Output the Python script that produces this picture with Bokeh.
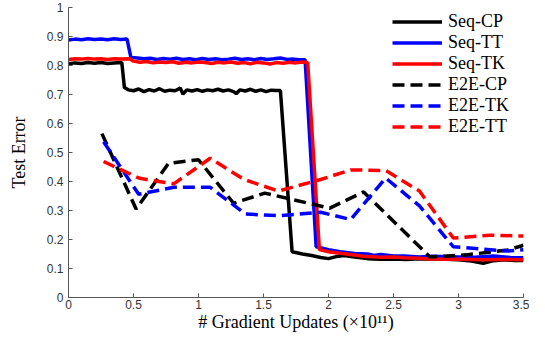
from bokeh.plotting import figure
from bokeh.models import Range1d, FixedTicker, Legend, LegendItem
from bokeh.embed import file_html
from bokeh.resources import INLINE

# ---- data ----
seq_cp_x = [0, 0.05, 0.1, 0.15, 0.2, 0.25, 0.3, 0.35, 0.41, 0.43, 0.46, 0.5, 0.54, 0.58, 0.62, 0.66, 0.7,
            0.74, 0.78, 0.82, 0.86, 0.88, 0.91, 0.95, 0.99, 1.03, 1.07, 1.11, 1.15, 1.19, 1.23, 1.27, 1.29,
            1.32, 1.36, 1.4, 1.44, 1.48, 1.52, 1.56, 1.6, 1.63, 1.72, 1.8, 1.87, 1.94, 2.0, 2.06, 2.12, 2.2,
            2.3, 2.4, 2.5, 2.6, 2.7, 2.8, 2.9, 3.0, 3.1, 3.19, 3.27, 3.35, 3.43, 3.5]
seq_cp_y = [0.806, 0.809, 0.807, 0.81, 0.808, 0.81, 0.807, 0.809, 0.81, 0.724, 0.716, 0.713, 0.719, 0.71,
            0.717, 0.712, 0.72, 0.711, 0.715, 0.713, 0.722, 0.702, 0.716, 0.712, 0.717, 0.711, 0.716, 0.713,
            0.718, 0.712, 0.716, 0.71, 0.703, 0.716, 0.712, 0.718, 0.711, 0.716, 0.71, 0.715, 0.714, 0.714,
            0.158, 0.15, 0.145, 0.138, 0.134, 0.141, 0.145, 0.14, 0.134, 0.132, 0.133, 0.131, 0.134, 0.133,
            0.132, 0.13, 0.126, 0.118, 0.127, 0.13, 0.128, 0.128]

seq_tt_x = [0, 0.05, 0.1, 0.15, 0.2, 0.25, 0.3, 0.35, 0.4, 0.45, 0.48, 0.53, 0.58, 0.63, 0.68, 0.73, 0.78,
            0.83, 0.88, 0.93, 0.98, 1.03, 1.08, 1.13, 1.18, 1.23, 1.28, 1.33, 1.38, 1.43, 1.48, 1.53, 1.58,
            1.63, 1.68, 1.73, 1.78, 1.82, 1.905, 2.0, 2.09, 2.2, 2.3, 2.35, 2.4, 2.5, 2.58, 2.7, 2.8, 3.0,
            3.1, 3.27, 3.4, 3.5]
seq_tt_y = [0.888, 0.891, 0.889, 0.892, 0.89, 0.891, 0.889, 0.892, 0.89, 0.891, 0.828, 0.826, 0.823, 0.825,
            0.821, 0.824, 0.822, 0.825, 0.821, 0.823, 0.82, 0.824, 0.821, 0.823, 0.82, 0.822, 0.825, 0.821,
            0.823, 0.82, 0.824, 0.821, 0.823, 0.826, 0.821, 0.822, 0.82, 0.82, 0.175, 0.165, 0.158, 0.152,
            0.15, 0.145, 0.148, 0.143, 0.143, 0.14, 0.142, 0.14, 0.138, 0.143, 0.138, 0.137]

seq_tk_x = [0, 0.05, 0.1, 0.15, 0.2, 0.25, 0.3, 0.35, 0.4, 0.47, 0.5, 0.55, 0.6, 0.65, 0.7, 0.75, 0.8, 0.85,
            0.9, 0.95, 1.0, 1.05, 1.1, 1.15, 1.2, 1.25, 1.3, 1.35, 1.4, 1.45, 1.5, 1.55, 1.6, 1.65, 1.7,
            1.75, 1.8, 1.84, 1.93, 2.01, 2.12, 2.27, 2.4, 2.5, 2.58, 2.7, 2.78, 2.9, 3.0, 3.2, 3.35, 3.5]
seq_tk_y = [0.821, 0.823, 0.822, 0.824, 0.822, 0.823, 0.821, 0.823, 0.822, 0.823, 0.815, 0.811, 0.814,
            0.809, 0.812, 0.81, 0.813, 0.808, 0.811, 0.809, 0.812, 0.81, 0.807, 0.811, 0.809, 0.812, 0.808,
            0.81, 0.806, 0.811, 0.809, 0.805, 0.81, 0.808, 0.811, 0.809, 0.812, 0.81, 0.165, 0.157, 0.151,
            0.142, 0.139, 0.14, 0.137, 0.135, 0.133, 0.132, 0.132, 0.13, 0.131, 0.13]

e2e_cp_x = [0.257, 0.52, 0.77, 1.0, 1.27, 1.51, 2.01, 2.27, 2.78, 3.06, 3.38, 3.5]
e2e_cp_y = [0.565, 0.305, 0.463, 0.475, 0.325, 0.36, 0.308, 0.364, 0.14, 0.147, 0.164, 0.18]

e2e_tk_x = [0.27, 0.54, 0.81, 1.09, 1.36, 1.615, 1.94, 2.17, 2.44, 2.7, 2.96, 3.38, 3.5]
e2e_tk_y = [0.537, 0.356, 0.38, 0.38, 0.288, 0.282, 0.294, 0.269, 0.412, 0.316, 0.175, 0.16, 0.165]

e2e_tt_x = [0.27, 0.54, 0.62, 0.81, 1.09, 1.35, 1.615, 1.94, 2.17, 2.44, 2.7, 2.96, 3.24, 3.5]
e2e_tt_y = [0.469, 0.412, 0.405, 0.392, 0.48, 0.407, 0.367, 0.407, 0.44, 0.438, 0.367, 0.205, 0.215, 0.212]

x_ticks = [0, 0.5, 1, 1.5, 2, 2.5, 3, 3.5]
x_tick_labels = ["0", "0.5", "1", "1.5", "2", "2.5", "3", "3.5"]
y_ticks = [0, 0.1, 0.2, 0.3, 0.4, 0.5, 0.6, 0.7, 0.8, 0.9, 1.0]
y_tick_labels = ["0", "0.1", "0.2", "0.3", "0.4", "0.5", "0.6", "0.7", "0.8", "0.9", "1"]

# ---- figure ----
p = figure(width=529, height=334, output_backend="svg", toolbar_location=None,
           x_range=Range1d(0, 3.5), y_range=Range1d(0, 1),
           min_border_left=68, min_border_right=6, min_border_top=7, min_border_bottom=37)
p.outline_line_color = None
p.grid.visible = False
p.background_fill_color = "white"
p.border_fill_color = "white"

SERIF = "Liberation Serif"
SANS = "Liberation Sans"

for ax, ticks, labels in ((p.xaxis[0], x_ticks, x_tick_labels), (p.yaxis[0], y_ticks, y_tick_labels)):
    ax.ticker = FixedTicker(ticks=ticks)
    ax.major_label_overrides = {t: l for t, l in zip(ticks, labels)}
    ax.major_tick_in = 4
    ax.major_tick_out = 0
    ax.minor_tick_line_color = None
    ax.axis_line_color = "#555555"
    ax.major_tick_line_color = "#555555"
    ax.major_label_text_font = SANS
    ax.major_label_text_font_size = "12px"
    ax.major_label_text_color = "#333333"
    ax.axis_label_text_font = SERIF
    ax.axis_label_text_font_size = "18px"
    ax.axis_label_text_font_style = "normal"
    ax.axis_label_text_color = "black"

p.xaxis.axis_label = "# Gradient Updates (\u00d710\u00b9\u00b9)"
p.yaxis.axis_label = "Test Error"
p.xaxis.major_label_standoff = 2
p.xaxis.axis_label_standoff = 0
p.yaxis.major_label_standoff = 5
p.yaxis.axis_label_standoff = 15

LW = 3.5
DASH = "12 6"
r1 = p.line(seq_cp_x, seq_cp_y, line_color="black", line_width=LW)
r2 = p.line(seq_tt_x, seq_tt_y, line_color="#0000ff", line_width=LW)
r3 = p.line(seq_tk_x, seq_tk_y, line_color="#ff0000", line_width=LW)
r4 = p.line(e2e_cp_x, e2e_cp_y, line_color="black", line_width=LW, line_dash=DASH)
r5 = p.line(e2e_tk_x, e2e_tk_y, line_color="#0000ff", line_width=LW, line_dash=DASH)
r6 = p.line(e2e_tt_x, e2e_tt_y, line_color="#ff0000", line_width=LW, line_dash=DASH)

legend = Legend(items=[
    LegendItem(label="Seq-CP", renderers=[r1]),
    LegendItem(label="Seq-TT", renderers=[r2]),
    LegendItem(label="Seq-TK", renderers=[r3]),
    LegendItem(label="E2E-CP", renderers=[r4]),
    LegendItem(label="E2E-TK", renderers=[r5]),
    LegendItem(label="E2E-TT", renderers=[r6]),
], location=(324, 160))
legend.padding = 0
legend.spacing = 0
legend.margin = 0
legend.glyph_width = 50
legend.glyph_height = 19
legend.label_height = 19
legend.label_standoff = 6
legend.label_text_font = SERIF
legend.label_text_font_size = "18px"
legend.label_text_color = "black"
legend.background_fill_alpha = 0
legend.border_line_color = None
p.add_layout(legend, "center")

open("out.html", "w").write(file_html(p, INLINE))
